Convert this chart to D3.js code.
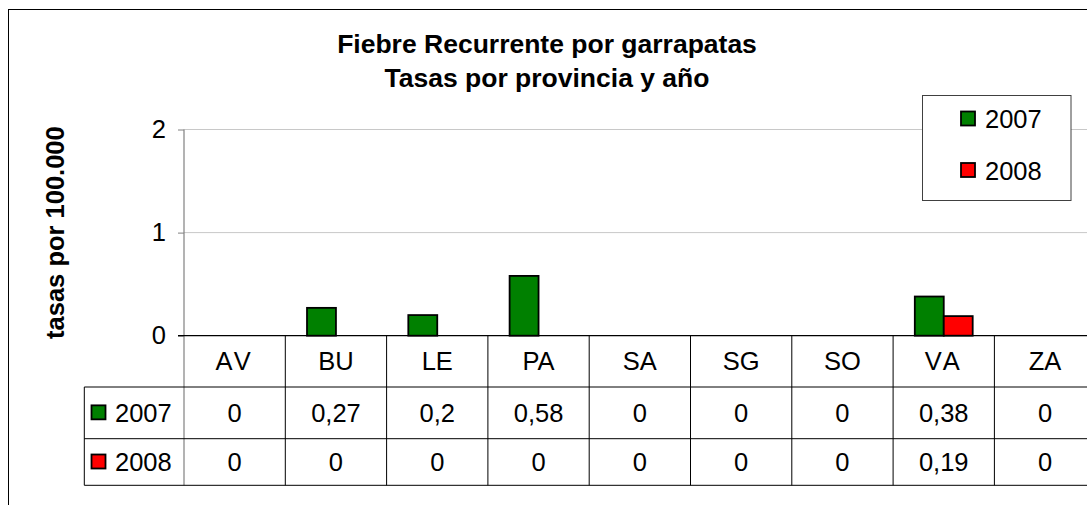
<!DOCTYPE html>
<html>
<head>
<meta charset="utf-8">
<script src="https://cdn.jsdelivr.net/npm/d3@7"></script>
<style>
  html, body { margin: 0; padding: 0; background: #fff; }
  svg { display: block; font-family: "Liberation Sans", Arial, sans-serif; }
</style>
</head>
<body>
<div id="chart"></div>
<script>
// Data
const provinces = ['AV', 'BU', 'LE', 'PA', 'SA', 'SG', 'SO', 'VA', 'ZA'];
const years = ['2007', '2008'];
const rates2007 = [0, 0.27, 0.2, 0.58, 0, 0, 0, 0.38, 0];
const rates2008 = [0, 0, 0, 0, 0, 0, 0, 0.19, 0];
const yTicks = [0, 1, 2];
const titleLines = ['Fiebre Recurrente por garrapatas', 'Tasas por provincia y año'];
const yLabel = 'tasas por 100.000';

const seriesValues = { '2007': rates2007, '2008': rates2008 };
const COLORS = { '2007': '#008000', '2008': '#ff0000' };

const W = 1087, H = 505;
const plot = { left: 184, right: 184 + 9 * 101.3, top: 129.5, bottom: 335.7 };
const rowY = [335.7, 387, 438.7, 485.3];
const tableLeft = 84.3;
const FS = 25.5;

const svg = d3.select('#chart').append('svg')
    .attr('width', W)
    .attr('height', H);

// Outer chart frame (runs off the right and bottom of the picture)
svg.append('rect')
    .attr('x', 8.5).attr('y', 9.5)
    .attr('width', 1200).attr('height', 600)
    .attr('fill', '#fff')
    .attr('stroke', '#000')
    .attr('stroke-width', 1);

const x = d3.scaleBand().domain(provinces).range([plot.left, plot.right]);
const xi = d3.scaleBand().domain(years).range([0, x.bandwidth()])
    .paddingInner(0).paddingOuter(0.75);
const y = d3.scaleLinear().domain([0, 2]).range([plot.bottom, plot.top]);

// Gridlines
svg.append('g').selectAll('line').data(yTicks.filter(d => d > 0)).join('line')
    .attr('x1', plot.left).attr('x2', plot.right)
    .attr('y1', d => y(d)).attr('y2', d => y(d))
    .attr('stroke', '#c8c8c8').attr('stroke-width', 1);

// Y axis
const yAxis = svg.append('g')
    .attr('transform', `translate(${plot.left},0)`)
    .call(d3.axisLeft(y).tickValues(yTicks).tickSize(6).tickPadding(12).tickFormat(d3.format('d')));
yAxis.select('.domain').remove();
yAxis.selectAll('.tick line').attr('stroke', '#808080');
yAxis.selectAll('.tick text')
    .attr('font-size', FS).attr('fill', '#000')
    .attr('font-family', '"Liberation Sans", Arial, sans-serif');
svg.append('line')
    .attr('x1', plot.left).attr('x2', plot.left)
    .attr('y1', plot.top).attr('y2', rowY[3])
    .attr('stroke', '#808080').attr('stroke-width', 1.2);

// Bars
const groups = svg.append('g').selectAll('g').data(provinces).join('g')
    .attr('transform', d => `translate(${x(d)},0)`);
groups.selectAll('rect')
    .data((p, i) => years.map(yr => ({ yr: yr, v: seriesValues[yr][i] })).filter(d => d.v > 0))
    .join('rect')
    .attr('x', d => xi(d.yr))
    .attr('width', xi.bandwidth())
    .attr('y', d => y(d.v))
    .attr('height', d => y(0) - y(d.v))
    .attr('fill', d => COLORS[d.yr])
    .attr('stroke', '#000')
    .attr('stroke-width', 1.8);

// Data table
const table = svg.append('g');
table.append('line')
    .attr('x1', plot.left - 6).attr('x2', plot.right)
    .attr('y1', rowY[0]).attr('y2', rowY[0])
    .attr('stroke', '#000').attr('stroke-width', 1.2);
table.selectAll('line.row').data(rowY.slice(1)).join('line')
    .attr('class', 'row')
    .attr('x1', tableLeft).attr('x2', plot.right)
    .attr('y1', d => d).attr('y2', d => d)
    .attr('stroke', '#000').attr('stroke-width', 1);
table.append('line')
    .attr('x1', tableLeft).attr('x2', tableLeft)
    .attr('y1', rowY[1]).attr('y2', rowY[3])
    .attr('stroke', '#000').attr('stroke-width', 1);
table.selectAll('line.col').data(provinces.slice(1)).join('line')
    .attr('class', 'col')
    .attr('x1', d => x(d)).attr('x2', d => x(d))
    .attr('y1', rowY[0]).attr('y2', rowY[3])
    .attr('stroke', '#000').attr('stroke-width', 1);

// Category labels
table.selectAll('text.cat').data(provinces).join('text')
    .attr('class', 'cat')
    .attr('x', d => x(d) + x.bandwidth() / 2)
    .attr('y', (rowY[0] + rowY[1]) / 2 + 9)
    .attr('text-anchor', 'middle')
    .attr('font-size', FS)
    .attr('letter-spacing', d => (d === 'AV' || d === 'VA') ? 3 : 0)
    .text(d => d);

// Value rows
years.forEach(function(yr, r) {
    const top = rowY[r + 1], bot = rowY[r + 2];
    const mid = (top + bot) / 2;
    table.append('rect')
        .attr('x', 91.5).attr('y', mid - 7.5)
        .attr('width', 14).attr('height', 14)
        .attr('fill', COLORS[yr])
        .attr('stroke', '#000').attr('stroke-width', 1.8);
    table.append('text')
        .attr('x', 115).attr('y', mid + 9)
        .attr('font-size', FS)
        .text(yr);
    table.selectAll('text.v' + yr).data(seriesValues[yr]).join('text')
        .attr('class', 'v' + yr)
        .attr('x', (d, i) => x(provinces[i]) + x.bandwidth() / 2)
        .attr('y', mid + 9)
        .attr('text-anchor', 'middle')
        .attr('font-size', FS)
        .text(d => String(d).replace('.', ','));
});

// Title
svg.append('g').selectAll('text').data(titleLines).join('text')
    .attr('x', 547)
    .attr('y', (d, i) => 53 + i * 33.5)
    .attr('text-anchor', 'middle')
    .attr('font-size', 26.5)
    .attr('font-weight', 'bold')
    .text(d => d);

// Y axis title
svg.append('text')
    .attr('transform', `translate(64,${(plot.top + plot.bottom) / 2}) rotate(-90)`)
    .attr('text-anchor', 'middle')
    .attr('font-size', 25.5)
    .attr('font-weight', 'bold')
    .text(yLabel);

// Legend
const legend = svg.append('g');
legend.append('rect')
    .attr('x', 922.5).attr('y', 95.5)
    .attr('width', 148.5).attr('height', 105)
    .attr('fill', '#fff')
    .attr('stroke', '#404040').attr('stroke-width', 1);
legend.selectAll('g').data(years).join('g')
    .attr('transform', (d, i) => `translate(960,${119 + i * 51.5})`)
    .each(function(yr) {
        const g = d3.select(this);
        g.append('rect')
            .attr('x', 1).attr('y', -7.5)
            .attr('width', 14).attr('height', 14)
            .attr('fill', COLORS[yr])
            .attr('stroke', '#000').attr('stroke-width', 1.8);
        g.append('text')
            .attr('x', 25).attr('y', 9)
            .attr('font-size', FS)
            .text(yr);
    });
</script>
</body>
</html>
